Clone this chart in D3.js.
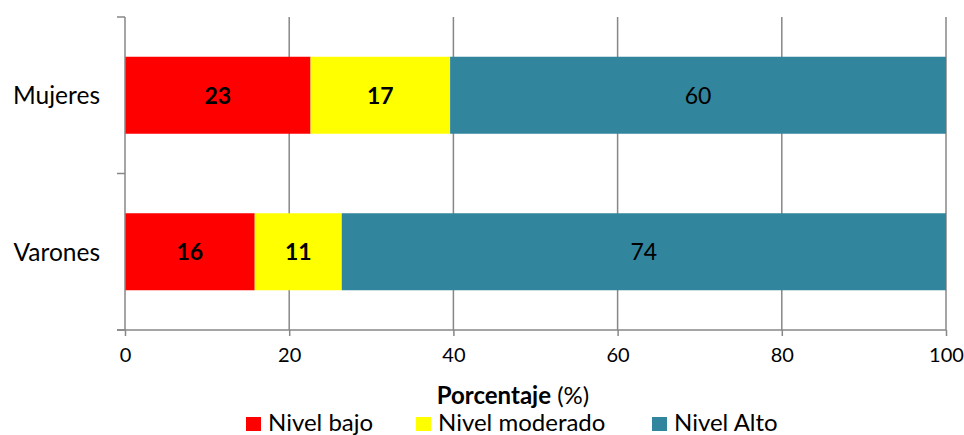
<!DOCTYPE html>
<html>
<head>
<meta charset="utf-8">
<script src="https://cdn.jsdelivr.net/npm/d3@7"></script>
<style>
  body { margin: 0; background: #fff; }
  text { font-family: Lato, "Noto Sans", sans-serif; fill: #000; }
</style>
</head>
<body>
<svg id="chart" width="964" height="435"></svg>
<script>
// datos (porcentajes)
const categories = ["Mujeres", "Varones"];
const nivelBajo = [22.6, 15.8];
const nivelModerado = [17.0, 10.6];
const nivelAlto = [60.4, 73.6];
const seriesNames = ["Nivel bajo", "Nivel moderado", "Nivel Alto"];
const xTicks = [0, 20, 40, 60, 80, 100];

const colors = ["#ff0000", "#ffff00", "#31859c"];
const gridColor = "#878787";

const svg = d3.select("#chart");
const plotLeft = 125, plotRight = 946, plotTop = 17, plotBottom = 330;

const x = d3.scaleLinear().domain([0, 100]).range([plotLeft, plotRight]);
const y = d3.scaleBand().domain(categories).range([plotTop, plotBottom])
  .paddingInner(0.508).paddingOuter(0.254);

// tabla para el apilado
const rows = categories.map((c, i) => ({
  cat: c,
  "Nivel bajo": nivelBajo[i],
  "Nivel moderado": nivelModerado[i],
  "Nivel Alto": nivelAlto[i]
}));
const stacked = d3.stack().keys(seriesNames)(rows);

// lineas de cuadricula verticales
svg.append("g")
  .selectAll("line")
  .data(xTicks.slice(1))
  .join("line")
  .attr("x1", d => x(d)).attr("x2", d => x(d))
  .attr("y1", plotTop).attr("y2", plotBottom)
  .attr("stroke", gridColor).attr("stroke-width", 1.5);

// barras
const layers = svg.append("g")
  .selectAll("g")
  .data(stacked)
  .join("g")
  .attr("fill", (d, i) => colors[i]);

layers.selectAll("rect")
  .data(d => d)
  .join("rect")
  .attr("x", d => x(d[0]))
  .attr("width", d => x(d[1]) - x(d[0]))
  .attr("y", d => y(d.data.cat))
  .attr("height", y.bandwidth());

// etiquetas de datos
stacked.forEach((layer, i) => {
  svg.append("g")
    .selectAll("text")
    .data(layer)
    .join("text")
    .attr("x", d => (x(d[0]) + x(d[1])) / 2)
    .attr("y", d => y(d.data.cat) + y.bandwidth() / 2)
    .attr("dy", "0.36em")
    .attr("text-anchor", "middle")
    .attr("font-size", 23)
    .attr("font-weight", i < 2 ? "bold" : "normal")
    .text(d => Math.round(d[1] - d[0]));
});

// eje x
const xAxis = svg.append("g")
  .attr("transform", `translate(0,${plotBottom})`)
  .call(d3.axisBottom(x).tickValues(xTicks).tickSize(6).tickPadding(12).tickSizeOuter(0));
xAxis.select(".domain").remove();
xAxis.selectAll("line").attr("stroke", gridColor).attr("stroke-width", 1.5);
xAxis.selectAll("text").attr("font-size", 20).attr("font-family", "Lato");
svg.append("line")
  .attr("x1", plotLeft - 8).attr("x2", plotRight)
  .attr("y1", plotBottom).attr("y2", plotBottom)
  .attr("stroke", gridColor).attr("stroke-width", 1.5);

// eje y
const yBounds = [plotTop, ...categories.map(c => y(c) - y.step() * y.paddingInner() / 2 + y.step())];
svg.append("line")
  .attr("x1", plotLeft).attr("x2", plotLeft)
  .attr("y1", plotTop).attr("y2", plotBottom)
  .attr("stroke", gridColor).attr("stroke-width", 1.5);
svg.append("g")
  .selectAll("line")
  .data(yBounds)
  .join("line")
  .attr("x1", plotLeft - 8).attr("x2", plotLeft)
  .attr("y1", d => d).attr("y2", d => d)
  .attr("stroke", gridColor).attr("stroke-width", 1.5);

svg.append("g")
  .selectAll("text")
  .data(categories)
  .join("text")
  .attr("x", 100)
  .attr("y", d => y(d) + y.bandwidth() / 2)
  .attr("dy", "0.36em")
  .attr("text-anchor", "end")
  .attr("font-size", 24.5)
  .text(d => d);

// titulo del eje
const title = svg.append("text")
  .attr("x", 513).attr("y", 404)
  .attr("text-anchor", "middle")
  .attr("font-size", 24);
title.append("tspan").attr("font-weight", "bold").text("Porcentaje");
title.append("tspan").text(" (%)");

// leyenda
const legendX = [246, 416, 652];
const legend = svg.append("g")
  .selectAll("g")
  .data(seriesNames)
  .join("g")
  .attr("transform", (d, i) => `translate(${legendX[i]},417)`);
legend.append("rect")
  .attr("width", 15).attr("height", 14)
  .attr("fill", (d, i) => colors[i]);
legend.append("text")
  .attr("x", 22).attr("y", 14)
  .attr("font-size", 24)
  .text(d => d);
</script>
</body>
</html>
